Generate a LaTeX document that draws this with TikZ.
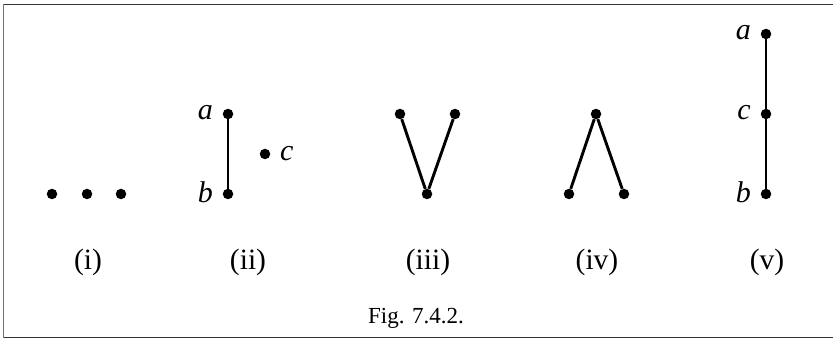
\documentclass[tikz,border=0pt]{standalone}
\usepackage{fontspec}
\setmainfont{Liberation Serif}
\begin{document}
\begin{tikzpicture}[x=1pt,y=-1pt,
  vtx/.style={circle,fill=black,inner sep=0pt,minimum size=10.5pt},
  edge/.style={line width=2.9pt},
  vlab/.style={font=\fontsize{30}{32}\selectfont\itshape,inner sep=0pt},
  sublab/.style={font=\fontsize{29.5}{32}\selectfont,inner sep=0pt},
  figcap/.style={font=\fontsize{23}{26}\selectfont,inner sep=0pt}]
\useasboundingbox (0,0) rectangle (833,339);
% frame
\draw[line width=1.6pt,black!55] (3.5,4.5) -- (3.5,337.5);
\draw[line width=1.6pt,black!80] (3.5,4.5) -- (833,4.5);
\draw[line width=1.6pt,black!80] (3.5,337.5) -- (833,337.5);
% (i)
\node[vtx] (i1) at (52,194) {};
\node[vtx] (i2) at (87,194) {};
\node[vtx] (i3) at (121,194) {};
\node[sublab] (li) at (88,262) {(i)};
% (ii)
\node[vtx] (iia) at (228,114) {};
\node[vtx] (iib) at (228,194) {};
\node[vtx] (iic) at (265,154) {};
\draw[edge] (iia) -- (iib);
\node[vlab,anchor=east] (iial) at (213,113) {a};
\node[vlab,anchor=east] (iibl) at (213,192) {b};
\node[vlab,anchor=west] (iicl) at (280,154) {c};
\node[sublab] (lii) at (248,262) {(ii)};
% (iii)
\node[vtx] (iii1) at (400,114) {};
\node[vtx] (iii2) at (455,114) {};
\node[vtx] (iii3) at (427,194) {};
\draw[edge] (iii1) -- (iii3) -- (iii2);
\node[sublab] (liii) at (428,262) {(iii)};
% (iv)
\node[vtx] (iv1) at (596,114) {};
\node[vtx] (iv2) at (569,194) {};
\node[vtx] (iv3) at (624,194) {};
\draw[edge] (iv2) -- (iv1) -- (iv3);
\node[sublab] (liv) at (597,262) {(iv)};
% (v)
\node[vtx] (va) at (766,34) {};
\node[vtx] (vc) at (766,114) {};
\node[vtx] (vb) at (766,194) {};
\draw[edge] (va) -- (vc) -- (vb);
\node[vlab,anchor=east] (val) at (751,33) {a};
\node[vlab,anchor=east] (vcl) at (751,113) {c};
\node[vlab,anchor=east] (vbl) at (751,192) {b};
\node[sublab] (lv) at (767,262) {(v)};
% caption
\node[figcap] (fig) at (416,318) {Fig. 7.4.2.};
\end{tikzpicture}
\end{document}
